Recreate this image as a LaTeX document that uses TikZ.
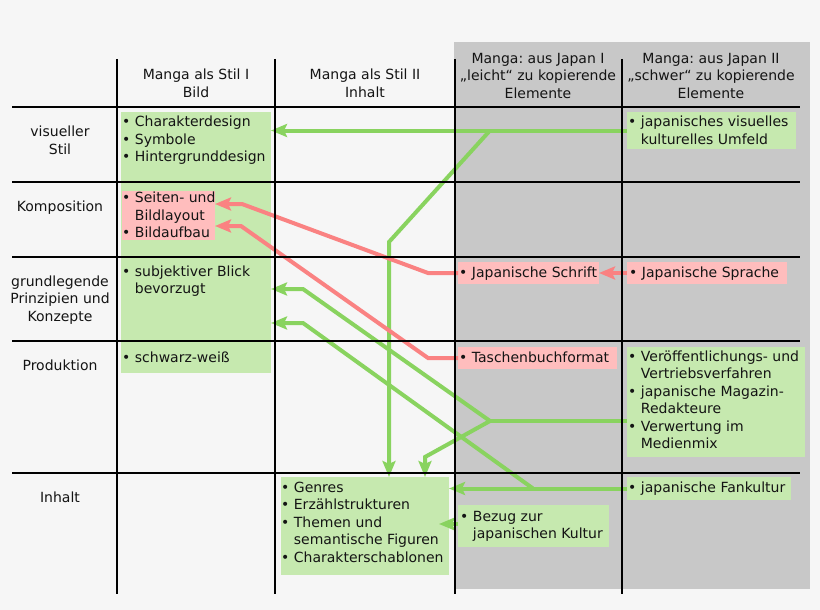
\documentclass[tikz,border=0pt]{standalone}
\usepackage{fontspec}
\setmainfont{DejaVu Sans}
\usetikzlibrary{arrows.meta}
\frenchspacing
\definecolor{bg}{RGB}{246,246,246}
\definecolor{grayreg}{RGB}{200,200,200}
\definecolor{boxgreen}{RGB}{198,233,175}
\definecolor{boxpink}{RGB}{255,189,189}
\definecolor{argreen}{RGB}{137,211,95}
\definecolor{arred}{RGB}{250,130,130}
\definecolor{txtcol}{RGB}{20,20,20}
\newcommand\ind{\hphantom{•\ }}
\newcommand\tl[1]{\begin{tabular}[t]{@{}l@{}}#1\end{tabular}}
\newcommand\tc[1]{\begin{tabular}[t]{@{}c@{}}#1\end{tabular}}
\begin{document}
\begin{tikzpicture}[x=1pt,y=-1pt,
  box/.style={rectangle,draw=none,inner sep=0pt,outer sep=0pt},
  gbox/.style={box,fill=boxgreen},
  pbox/.style={box,fill=boxpink},
  txt/.style={anchor=base west,inner sep=0pt,text=txtcol,font=\fontsize{14}{17.5}\selectfont},
  hd/.style={anchor=base,inner sep=0pt,text=txtcol,font=\fontsize{14}{17.5}\selectfont},
  grid/.style={draw=black,line width=1.6pt},
  gline/.style={draw=argreen,line width=4pt},
  garrow/.style={gline,-{Stealth[length=16pt,width=13pt,inset=3pt]}},
  rarrow/.style={draw=arred,line width=4pt,-{Stealth[length=16pt,width=13pt,inset=3pt]}}]
\useasboundingbox[fill=bg] (0,0) rectangle (820,610);
\fill[grayreg] (454,42) rectangle (810,589);

% boxes
\node[gbox,minimum width=150pt,minimum height=261pt] (stilI) at (196,242.5) {};
\node[pbox,minimum width=93pt,minimum height=49pt] (komp) at (168.5,215.5) {};
\node[gbox,minimum width=168pt,minimum height=98pt] (stilII) at (365,526) {};
\node[gbox,minimum width=151pt,minimum height=42pt] (bezug) at (533.5,526) {};
\node[gbox,minimum width=169pt,minimum height=37pt] (japvis) at (711.5,130.5) {};
\node[pbox,minimum width=160pt,minimum height=22pt] (sprache) at (707,273) {};
\node[pbox,minimum width=141pt,minimum height=22pt] (schrift) at (528.5,273) {};
\node[pbox,minimum width=159pt,minimum height=22pt] (tasche) at (537.5,358) {};
\node[gbox,minimum width=178pt,minimum height=110pt] (vertrieb) at (716,402) {};
\node[gbox,minimum width=164pt,minimum height=23pt] (fan) at (709,488.5) {};

% connector bend points
\coordinate (b1) at (490,130.5);
\coordinate (k1) at (389,242);
\coordinate (b2) at (490,421);
\coordinate (k2) at (303,289);
\coordinate (k3) at (425,457);
\coordinate (b3) at (533,488.5);
\coordinate (k4) at (303,323);
\coordinate (r1a) at (428,273);
\coordinate (r1b) at (242,204);
\coordinate (r2a) at (428,358);
\coordinate (r2b) at (241,226);
\coordinate (bz) at (439,524);

% green connectors
\draw[garrow] (japvis.west) -- (japvis.west -| stilI.east);
\draw[garrow] (b1) -- (k1) -- (k1 |- stilII.north);
\draw[gline] (vertrieb.west |- b2) -- (b2);
\draw[garrow] (b2) -- (k2) -- (k2 -| stilI.east);
\draw[garrow] (b2) -- (k3) -- (k3 |- stilII.north);
\draw[garrow] (fan.west) -- (fan.west -| stilII.east);
\draw[garrow] (b3) -- (k4) -- (k4 -| stilI.east);
\draw[garrow] (bezug.west |- bz) -- (bz);

% red connectors
\draw[rarrow] (schrift.west) -- (r1a) -- (r1b) -- (r1b -| komp.east);
\draw[rarrow] (tasche.west) -- (r2a) -- (r2b) -- (r2b -| komp.east);
\draw[rarrow] (sprache.west) -- (schrift.east);

% grid
\foreach \yy in {107,182,257,341,473} \draw[grid] (12,\yy) -- (800,\yy);
\foreach \xx in {117,275,455,622} \draw[grid] (\xx,59) -- (\xx,594);

% headers
\node[hd] (h1) at (196,80) {\tc{Manga als Stil I\\Bild}};
\node[hd] (h2) at (365,80) {\tc{Manga als Stil II\\Inhalt}};
\node[hd] (h3) at (538,63.3) {\tc{Manga: aus Japan I\\„leicht“ zu kopierende\\Elemente}};
\node[hd] (h4) at (711,63.3) {\tc{Manga: aus Japan II\\„schwer“ zu kopierende\\Elemente}};

% row labels
\node[hd] (l1) at (60,136.7) {\tc{visueller\\Stil}};
\node[hd] (l2) at (60,211.7) {Komposition};
\node[hd] (l3) at (60,286) {\tc{grundlegende\\Prinzipien und\\Konzepte}};
\node[hd] (l4) at (60,370) {Produktion};
\node[hd] (l5) at (60,502.5) {Inhalt};

% box texts
\node[txt] (t1) at (122,126.5) {\tl{• Charakterdesign\\• Symbole\\• Hintergrunddesign}};
\node[txt] (t2) at (122,202.7) {\tl{• Seiten- und\\\ind Bildlayout\\• Bildaufbau}};
\node[txt] (t3) at (122,276) {\tl{• subjektiver Blick\\\ind bevorzugt}};
\node[txt] (t4) at (122,362.7) {\tl{• schwarz-weiß}};
\node[txt] (t5) at (281,492.3) {\tl{• Genres\\• Erzählstrukturen\\• Themen und\\\ind semantische Figuren\\• Charakterschablonen}};
\node[txt] (t6) at (460,521) {\tl{• Bezug zur\\\ind japanischen Kultur}};
\node[txt] (t7) at (628,126.7) {\tl{• japanisches visuelles\\\ind kulturelles Umfeld}};
\node[txt] (t8) at (459,277.3) {\tl{• Japanische Schrift}};
\node[txt] (t9) at (629,277.3) {\tl{• Japanische Sprache}};
\node[txt] (t10) at (459,362.3) {\tl{• Taschenbuchformat}};
\node[txt] (t11) at (628,361) {\tl{• Veröffentlichungs- und\\\ind Vertriebsverfahren\\• japanische Magazin-\\\ind Redakteure\\• Verwertung im\\\ind Medienmix}};
\node[txt] (t12) at (628,492.3) {\tl{• japanische Fankultur}};
\end{tikzpicture}
\end{document}
